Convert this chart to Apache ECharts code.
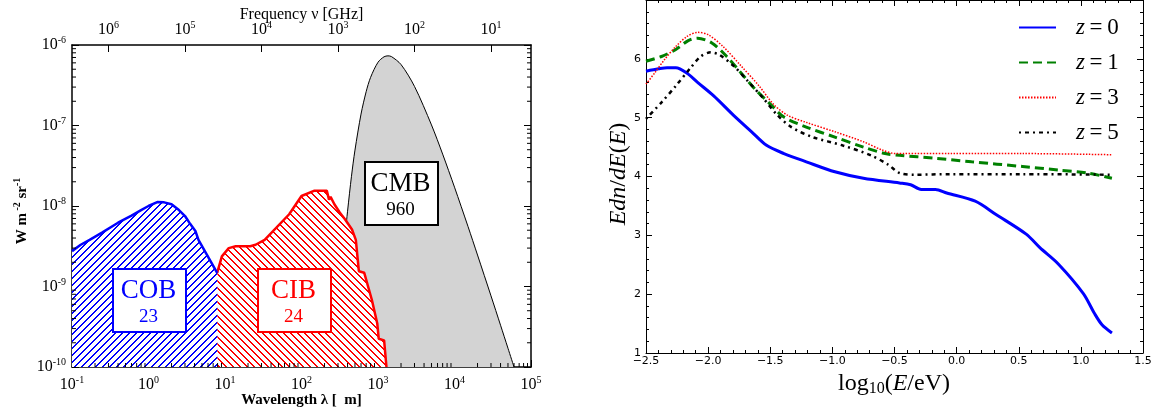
<!DOCTYPE html>
<html>
<head>
<meta charset="utf-8">
<script src="https://cdn.jsdelivr.net/npm/echarts@6/dist/echarts.min.js"></script>
<style>html,body{margin:0;padding:0;background:#fff}#c{width:1155px;height:414px}</style>
</head>
<body>
<div id="c"></div>
<script>
// ---------- Left panel data (wavelength in micron, intensity in W m^-2 sr^-1) ----------
const lambdaCOB = [0.1,0.13,0.17,0.25,0.4,0.6,0.8,1.0,1.3,1.6,2.0,2.5,3.0,3.5,4.1,4.5,7.9];
const fluxCOB   = [2.75e-9,3.3e-9,3.8e-9,4.7e-9,6.2e-9,7.6e-9,8.9e-9,1.0e-8,1.12e-8,1.11e-8,1.05e-8,8.9e-9,7.5e-9,6.0e-9,4.9e-9,3.8e-9,1.48e-9];

const lambdaCIB = [7.9,9.1,11.2,13.8,21.4,25.1,33,69,100,148,214,229,240,269,316,372,457,513,562,661,832,977,1023,1202,1290];
const fluxCIB   = [1.48e-9,2.37e-9,3.0e-9,3.16e-9,3.16e-9,3.3e-9,3.8e-9,7.9e-9,1.33e-8,1.55e-8,1.55e-8,1.2e-8,1.3e-8,1.05e-8,8.3e-9,6.8e-9,5.1e-9,3.8e-9,1.55e-9,1.48e-9,6.8e-10,3.5e-10,2.24e-10,2.14e-10,1.0e-10];

const lambdaCMB = [276,300,325,350,375,400,450,500,600,700,800,1000,1200,1350,1500,2000,3000,5000,7000,10000,15000,20000,30000,40000,50000,60000];
const fluxCMB   = [1.0e-10,3.35e-10,9.4e-10,2.22e-9,4.63e-9,8.6e-9,2.34e-8,4.95e-8,1.386e-7,2.63e-7,3.96e-7,6.10e-7,7.14e-7,7.33e-7,7.18e-7,5.72e-7,3.06e-7,1.017e-7,4.41e-8,1.713e-8,5.58e-9,2.46e-9,7.65e-10,3.30e-10,1.71e-10,1.0e-10];

const boxNames  = ['COB', 'CIB', 'CMB'];
const boxValues = ['23', '24', '960'];
const boxColors = ['#0000ff', '#ff0000', '#000000'];

// ---------- Right panel data (log10(E/eV), E dn/dE) ----------
const seriesNames = ['z=0','z=1','z=3','z=5'];
const z0X = [-2.5,-2.4,-2.33,-2.26,-2.16,-2.085,-1.955,-1.795,-1.65,-1.53,-1.39,-1.21,-0.98,-0.75,-0.46,-0.37,-0.285,-0.17,-0.08,0.15,0.32,0.56,0.67,0.82,1.02,1.11,1.17,1.25];
const z0Y = [5.79,5.83,5.85,5.85,5.74,5.60,5.37,5.04,4.76,4.53,4.39,4.25,4.08,3.97,3.89,3.86,3.78,3.78,3.72,3.58,3.35,3.02,2.79,2.51,2.01,1.67,1.48,1.34];
const z1X = [-2.5,-2.375,-2.26,-2.16,-2.085,-1.97,-1.85,-1.735,-1.62,-1.50,-1.39,-1.21,-0.98,-0.75,-0.575,-0.46,-0.17,0.12,0.53,0.82,1.05,1.25];
const z1Y = [5.96,6.04,6.16,6.31,6.35,6.27,6.04,5.76,5.48,5.23,5.01,4.84,4.67,4.50,4.39,4.36,4.31,4.25,4.17,4.11,4.06,3.97];
const z3X = [-2.5,-2.43,-2.35,-2.26,-2.17,-2.085,-2.0,-1.88,-1.735,-1.59,-1.475,-1.36,-1.21,-0.98,-0.75,-0.6,-0.49,-0.43,-0.05,0.53,1.25];
const z3Y = [5.57,5.76,5.99,6.21,6.38,6.45,6.41,6.21,5.88,5.54,5.23,5.04,4.92,4.76,4.59,4.45,4.39,4.39,4.39,4.39,4.37];
const z5X = [-2.5,-2.375,-2.26,-2.14,-2.06,-1.98,-1.91,-1.795,-1.68,-1.56,-1.45,-1.33,-1.16,-0.92,-0.69,-0.55,-0.46,-0.34,-0.05,0.53,1.25];
const z5Y = [4.98,5.26,5.54,5.85,6.04,6.11,6.07,5.88,5.62,5.34,5.06,4.84,4.67,4.53,4.36,4.20,4.06,4.03,4.04,4.04,4.03];

// ---------- helpers ----------
const SERIF = 'Liberation Serif';
const pairs = (xs, ys) => xs.map((x, i) => [x, ys[i]]);

// crisp, non-antialiased diagonal hatch tile
function hatch(color, up) {
  const s = 7;
  const c = document.createElement('canvas');
  c.width = s; c.height = s;
  const g = c.getContext('2d');
  g.fillStyle = '#fff'; g.fillRect(0, 0, s, s);
  g.fillStyle = color;
  for (let i = 0; i < s; i++) {
    const r = up ? (s - 1 - i) : i;
    g.fillRect(i, r, 1, 1);
    g.fillRect(i, (r + 1) % s, 1, 1);
  }
  return c;
}

const minorX = [];
for (let e = -1; e < 5; e++) for (let m = 2; m <= 9; m++) minorX.push(m * Math.pow(10, e));
const minorY = [];
for (let e = -10; e < -6; e++) for (let m = 2; m <= 9; m++) minorY.push(m * Math.pow(10, e));

const powLabel = v => {
  const e = Math.round(Math.log10(v));
  return '{b|10}{s|' + e + '}';
};
const powRich = {
  b: {fontFamily: SERIF, fontSize: 16, color: '#000'},
  s: {fontFamily: SERIF, fontSize: 10, color: '#000', padding: [0, 0, 9, 0]}
};
const numFmt = v => (v < 0 ? '\u2212' : '') + Math.abs(v).toFixed(1);

const chart = echarts.init(document.getElementById('c'), null, {renderer: 'canvas'});

const leftTickStyle = {show: true, inside: true, length: 7, lineStyle: {color: '#000', width: 1}};
const rightTickStyle = {show: true, inside: true, length: 6, lineStyle: {color: '#000', width: 1}};
const rightMinor = {show: true, splitNumber: 5, length: 3, lineStyle: {color: '#000', width: 1}};

const boxW = 73, boxH = 63;
const boxPos = [[112, 268], [257, 268], [364, 161]];
const boxGraphics = [];
boxNames.forEach((nm, i) => {
  const [bx, by] = boxPos[i];
  boxGraphics.push({type: 'rect', left: bx, top: by, z: 100,
    shape: {width: boxW, height: boxH},
    style: {fill: '#fff', stroke: boxColors[i], lineWidth: 2}});
  boxGraphics.push({type: 'text', x: bx + boxW / 2, y: by + 23, z: 101,
    style: {text: nm, fill: boxColors[i], fontFamily: SERIF, fontSize: 27, align: 'center', verticalAlign: 'middle'}});
  boxGraphics.push({type: 'text', x: bx + boxW / 2, y: by + 49, z: 101,
    style: {text: boxValues[i], fill: boxColors[i], fontFamily: SERIF, fontSize: 19, align: 'center', verticalAlign: 'middle'}});
});

const option = {
  backgroundColor: '#fff',
  animation: false,
  grid: [
    {left: 72, top: 45, width: 459, height: 322},
    {left: 646, top: -4, width: 497, height: 357}
  ],
  xAxis: [
    {type: 'log', gridIndex: 0, min: 0.1, max: 1e5, position: 'bottom',
     axisLine: {show: true, onZero: false, lineStyle: {color: '#000', width: 1.5}},
     axisTick: leftTickStyle, splitLine: {show: false}, minorTick: {show: false},
     axisLabel: {formatter: powLabel, rich: powRich, margin: 8}},
    {type: 'log', gridIndex: 0, min: 3, max: 3e6, inverse: true, position: 'top',
     axisLine: {show: true, onZero: false, lineStyle: {color: '#000', width: 1.5}},
     axisTick: leftTickStyle, splitLine: {show: false},
     axisLabel: {formatter: powLabel, rich: powRich, margin: 6, showMinLabel: false, showMaxLabel: false}},
    {type: 'value', gridIndex: 1, min: -2.5, max: 1.5, interval: 0.5, position: 'bottom',
     axisLine: {show: true, onZero: false, lineStyle: {color: '#000', width: 1}},
     axisTick: rightTickStyle, minorTick: rightMinor, splitLine: {show: false},
     axisLabel: {formatter: numFmt, fontFamily: 'DejaVu Sans', fontSize: 11, color: '#000', margin: 3}},
    {type: 'value', gridIndex: 1, min: -2.5, max: 1.5, interval: 0.5, position: 'top',
     axisLine: {show: true, onZero: false, lineStyle: {color: '#000', width: 1}},
     axisTick: rightTickStyle, minorTick: rightMinor, splitLine: {show: false},
     axisLabel: {show: false}}
  ],
  yAxis: [
    {type: 'log', gridIndex: 0, min: 1e-10, max: 1e-6, position: 'left',
     axisLine: {show: true, onZero: false, lineStyle: {color: '#000', width: 1.5}},
     axisTick: leftTickStyle, splitLine: {show: false},
     axisLabel: {formatter: powLabel, rich: powRich, margin: 6}},
    {type: 'log', gridIndex: 0, min: 1e-10, max: 1e-6, position: 'right',
     axisLine: {show: true, onZero: false, lineStyle: {color: '#000', width: 1.5}},
     axisTick: leftTickStyle, splitLine: {show: false},
     axisLabel: {show: false}},
    {type: 'value', gridIndex: 1, min: 1, max: 7, interval: 1, position: 'left',
     axisLine: {show: true, onZero: false, lineStyle: {color: '#000', width: 1}},
     axisTick: rightTickStyle, minorTick: rightMinor, splitLine: {show: false},
     axisLabel: {fontFamily: 'DejaVu Sans', fontSize: 11, color: '#000', margin: 5, showMaxLabel: false}},
    {type: 'value', gridIndex: 1, min: 1, max: 7, interval: 1, position: 'right',
     axisLine: {show: true, onZero: false, lineStyle: {color: '#000', width: 1}},
     axisTick: rightTickStyle, minorTick: rightMinor, splitLine: {show: false},
     axisLabel: {show: false}}
  ],
  legend: {
    data: seriesNames, orient: 'vertical', left: 1013, top: 11,
    itemWidth: 37, itemHeight: 14, itemGap: 10,
    itemStyle: {opacity: 0},
    formatter: n => '{i|z}{n|\u2009=\u2009' + n.slice(2) + '}',
    textStyle: {
      rich: {
        i: {fontFamily: SERIF, fontStyle: 'italic', fontSize: 23, color: '#000', padding: [0, 0, 0, 15], lineHeight: 25},
        n: {fontFamily: SERIF, fontSize: 23, color: '#000', lineHeight: 25}
      }
    }
  },
  series: [
    {name: 'CMB', type: 'line', xAxisIndex: 0, yAxisIndex: 0, data: pairs(lambdaCMB, fluxCMB),
     symbol: 'none', smooth: 0.3, z: 1,
     lineStyle: {color: '#000', width: 1},
     areaStyle: {color: '#d3d3d3', opacity: 1, origin: 'start'}},
    {name: 'CIB', type: 'line', xAxisIndex: 0, yAxisIndex: 0, data: pairs(lambdaCIB, fluxCIB),
     symbol: 'none', z: 2,
     lineStyle: {color: '#ff0000', width: 2.5},
     areaStyle: {color: {image: hatch('#ff0000', false), repeat: 'repeat'}, opacity: 1, origin: 'start'}},
    {name: 'COB', type: 'line', xAxisIndex: 0, yAxisIndex: 0, data: pairs(lambdaCOB, fluxCOB),
     symbol: 'none', z: 3,
     lineStyle: {color: '#0000ff', width: 2.5},
     areaStyle: {color: {image: hatch('#0000ff', true), repeat: 'repeat'}, opacity: 1, origin: 'start'}},
    {type: 'custom', xAxisIndex: 0, yAxisIndex: 0, silent: true, z: 20, clip: false,
     data: minorX.map(v => [v, 1e-10]),
     renderItem: (p, api) => {
       const pt = api.coord([api.value(0), 1e-10]);
       return {type: 'line', shape: {x1: pt[0], y1: pt[1], x2: pt[0], y2: pt[1] - 4},
               style: {stroke: '#000', lineWidth: 1}};
     }},
    {type: 'custom', xAxisIndex: 0, yAxisIndex: 0, silent: true, z: 20, clip: false,
     data: minorY.map(v => [0.1, v]),
     renderItem: (p, api) => {
       const a = api.coord([0.1, api.value(1)]);
       const b = api.coord([1e5, api.value(1)]);
       return {type: 'group', children: [
         {type: 'line', shape: {x1: a[0], y1: a[1], x2: a[0] + 4, y2: a[1]}, style: {stroke: '#000', lineWidth: 1}},
         {type: 'line', shape: {x1: b[0], y1: b[1], x2: b[0] - 4, y2: b[1]}, style: {stroke: '#000', lineWidth: 1}}
       ]};
     }},
    {name: 'z=0', type: 'line', xAxisIndex: 2, yAxisIndex: 2, data: pairs(z0X, z0Y),
     symbol: 'none', smooth: 0.3, itemStyle: {color: '#0000ff'}, lineStyle: {color: '#0000ff', width: 3}},
    {name: 'z=1', type: 'line', xAxisIndex: 2, yAxisIndex: 2, data: pairs(z1X, z1Y),
     symbol: 'none', smooth: 0.3, itemStyle: {color: '#008000'}, lineStyle: {color: '#008000', width: 3, type: [9, 5]}},
    {name: 'z=3', type: 'line', xAxisIndex: 2, yAxisIndex: 2, data: pairs(z3X, z3Y),
     symbol: 'none', smooth: 0.3, itemStyle: {color: '#ff0000'}, lineStyle: {color: '#ff0000', width: 1.5, type: [1.5, 1.5]}},
    {name: 'z=5', type: 'line', xAxisIndex: 2, yAxisIndex: 2, data: pairs(z5X, z5Y),
     symbol: 'none', smooth: 0.3, itemStyle: {color: '#000'}, lineStyle: {color: '#000', width: 2.5, type: [2, 4, 4, 4]}}
  ],
  graphic: boxGraphics.concat([
    {type: 'text', x: 301.5, y: 15, z: 100,
     style: {text: 'Frequency \u03bd [GHz]', fill: '#000', fontFamily: SERIF, fontSize: 16, align: 'center', verticalAlign: 'middle'}},
    {type: 'text', x: 301.5, y: 400, z: 100,
     style: {text: 'Wavelength \u03bb [  m]', fill: '#000', fontFamily: SERIF, fontWeight: 'bold', fontSize: 15, align: 'center', verticalAlign: 'middle'}},
    {type: 'text', x: 22, y: 211, rotation: Math.PI / 2, z: 100,
     style: {text: '{a|W m}{s| -2}{a| sr}{s|-1}', align: 'center', verticalAlign: 'middle',
       rich: {a: {fontFamily: SERIF, fontWeight: 'bold', fontSize: 15, fill: '#000'},
              s: {fontFamily: SERIF, fontWeight: 'bold', fontSize: 10, fill: '#000', padding: [0, 0, 9, 0]}}}},
    {type: 'text', x: 894, y: 384, z: 100,
     style: {text: '{r|log}{sub|10}{r|(}{i|E}{r|/eV)}', align: 'center', verticalAlign: 'middle',
       rich: {r: {fontFamily: SERIF, fontSize: 24, fill: '#000'},
              i: {fontFamily: SERIF, fontStyle: 'italic', fontSize: 24, fill: '#000'},
              sub: {fontFamily: SERIF, fontSize: 16, fill: '#000', padding: [10, 0, 0, 0]}}}},
    {type: 'text', x: 619, y: 174, rotation: Math.PI / 2, z: 100,
     style: {text: '{i|Edn}{r|/}{i|dE}{r|(}{i|E}{r|)}', align: 'center', verticalAlign: 'middle',
       rich: {r: {fontFamily: SERIF, fontSize: 24, fill: '#000'},
              i: {fontFamily: SERIF, fontStyle: 'italic', fontSize: 24, fill: '#000'}}}}
  ])
};
option.legend.itemGap = 12;
chart.setOption(option);
</script>
</body>
</html>
